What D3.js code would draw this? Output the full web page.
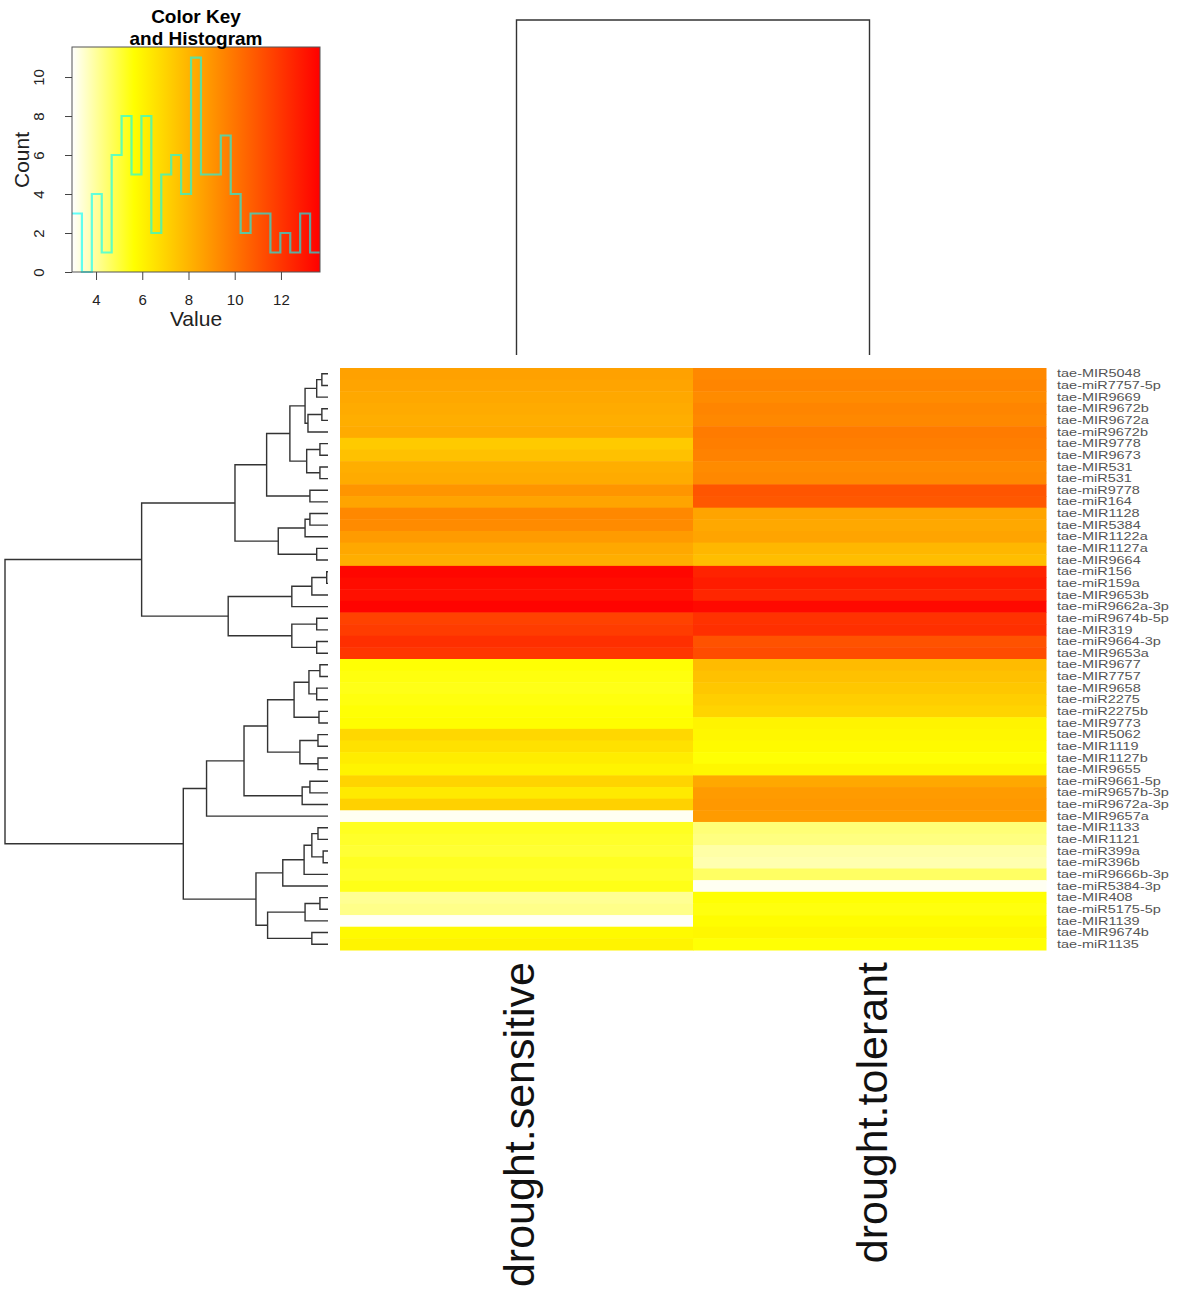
<!DOCTYPE html>
<html>
<head>
<meta charset="utf-8">
<script src="https://cdn.jsdelivr.net/npm/d3@7"></script>
<style>
  body { margin: 0; background: #fff; }
  text { font-family: "Liberation Sans", Arial, Helvetica, sans-serif; }
</style>
</head>
<body>
<div id="my_chart"></div>
<script>
// row / column names
const rowLabels = [
  "tae-MIR5048", "tae-miR7757-5p", "tae-MIR9669", "tae-MIR9672b", "tae-MIR9672a",
  "tae-miR9672b", "tae-MIR9778", "tae-MIR9673", "tae-MIR531", "tae-miR531",
  "tae-miR9778", "tae-miR164", "tae-MIR1128", "tae-MIR5384", "tae-MIR1122a",
  "tae-MIR1127a", "tae-MIR9664", "tae-miR156", "tae-miR159a", "tae-MIR9653b",
  "tae-miR9662a-3p", "tae-miR9674b-5p", "tae-MIR319", "tae-miR9664-3p", "tae-MIR9653a",
  "tae-MIR9677", "tae-MIR7757", "tae-MIR9658", "tae-miR2275", "tae-miR2275b",
  "tae-MIR9773", "tae-MIR5062", "tae-MIR1119", "tae-MIR1127b", "tae-MIR9655",
  "tae-miR9661-5p", "tae-miR9657b-3p", "tae-miR9672a-3p", "tae-MIR9657a", "tae-MIR1133",
  "tae-MIR1121", "tae-miR399a", "tae-miR396b", "tae-miR9666b-3p", "tae-miR5384-3p",
  "tae-MIR408", "tae-miR5175-5p", "tae-MIR1139", "tae-MIR9674b", "tae-miR1135"
];
const colLabels = ["drought.sensitive", "drought.tolerant"];

// expression values, one per row
const sensitive = [
  8.6, 8.5, 8.4, 8.3, 8.2, 8.3, 7.3, 7.6, 8.2, 8.3,
  9.0, 8.5, 9.4, 9.3, 8.8, 8.4, 8.2, 13.5, 13.3, 13.2,
  13.6, 11.6, 11.8, 12.2, 12.0, 5.6, 5.5, 5.4, 5.5, 5.6,
  5.7, 6.9, 6.6, 6.2, 6.0, 7.0, 6.3, 7.1, 3.1, 5.3,
  5.2, 5.1, 5.3, 5.2, 5.4, 4.1, 4.2, 3.05, 5.8, 6.0
];
const tolerant = [
  9.4, 9.5, 9.3, 9.5, 9.4, 9.8, 9.7, 9.6, 9.3, 9.4,
  11.0, 10.9, 8.5, 8.4, 8.5, 7.9, 7.7, 12.6, 12.8, 12.5,
  13.4, 12.1, 12.2, 11.1, 11.3, 7.8, 7.6, 7.4, 7.2, 7.0,
  6.0, 5.9, 5.8, 5.6, 5.9, 8.4, 8.8, 8.9, 8.8, 4.4,
  4.3, 3.9, 3.8, 4.6, 3.1, 5.6, 5.5, 5.7, 5.9, 5.6
];

// colour key / histogram
const keyRange = [2.96, 13.69];
const histCounts = [3, 0, 4, 1, 6, 8, 5, 8, 2, 5, 6, 4, 11, 5, 5, 7, 4, 2, 3, 3, 1, 2, 1, 3, 1];
const keyTicksX = [4, 6, 8, 10, 12];
const keyTicksY = [0, 2, 4, 6, 8, 10];

// row dendrogram: [height, left, right], leaves are row indices
const rowTree = [10,
  [5.77,
    [2.88,
      [1.90,
        [1.18,
          [0.71, [0.35, [0.19, 0, 1], 2], [0.62, [0.19, 3, 4], 5]],
          [0.66, [0.25, 6, 7], [0.25, 8, 9]]],
        [0.56, 10, 11]],
      [1.54, [0.71, [0.56, 12, 13], 14], [0.35, 15, 16]]],
    [3.09,
      [1.12, [0.50, [0.04, 17, 18], 19], 20],
      [1.12, [0.35, 21, 22], [0.35, 23, 24]]]],
  [4.48,
    [3.76,
      [2.60,
        [1.87,
          [1.05, [0.59, [0.25, 25, 26], [0.35, 27, 28]], [0.28, 29, 30]],
          [0.87, [0.31, 31, 32], [0.31, 33, 34]]],
        [0.80, [0.56, 35, 36], 37]],
      38],
    [2.23,
      [1.40, [0.74, [0.50, [0.31, 39, 40], [0.15, 41, 42]], 43], 44],
      [1.87, [0.71, [0.25, 45, 46], 47], [0.50, 48, 49]]]]
];
const colTree = [10, 0, 1];

const width = 1181, height = 1291;
const svg = d3.select("#my_chart")
  .append("svg")
  .attr("width", width)
  .attr("height", height);

// heatmap area
const hm = { left: 340, right: 1046, top: 368, bottom: 950 };
const y = d3.scaleBand().domain(d3.range(rowLabels.length)).range([hm.top, hm.bottom]);
const x = d3.scaleBand().domain(colLabels).range([hm.left, hm.right]);

const color = d3.scaleLinear()
  .domain([keyRange[0], keyRange[0] + (keyRange[1] - keyRange[0]) / 4, keyRange[1]])
  .range(["#ffffff", "#ffff00", "#ff0000"])
  .clamp(true);

const cells = [];
rowLabels.forEach((r, i) => {
  cells.push({ row: i, col: colLabels[0], v: sensitive[i] });
  cells.push({ row: i, col: colLabels[1], v: tolerant[i] });
});

svg.append("g")
  .selectAll("rect")
  .data(cells)
  .join("rect")
  .attr("x", d => x(d.col))
  .attr("y", d => y(d.row))
  .attr("width", x.bandwidth() + 0.5)
  .attr("height", y.bandwidth() + 0.5)
  .attr("fill", d => color(d.v));

// row labels (small font, stretched sideways like the original)
svg.append("g")
  .selectAll("text")
  .data(rowLabels)
  .join("text")
  .attr("transform", (d, i) => `translate(${hm.right + 11},${y(i) + y.bandwidth() / 2}) scale(1.45,1)`)
  .attr("dy", "0.36em")
  .attr("font-size", 10)
  .attr("fill", "#555")
  .text(d => d);

// column labels
svg.append("g")
  .selectAll("text")
  .data(colLabels)
  .join("text")
  .attr("transform", d => `translate(${x(d) + x.bandwidth() / 2 + 17},${hm.bottom + 12}) rotate(-90)`)
  .attr("text-anchor", "end")
  .attr("font-size", 43)
  .attr("fill", "#111")
  .text(d => d);

// row dendrogram
const rowRoot = d3.hierarchy(rowTree, d => Array.isArray(d) ? d.slice(1) : null);
rowRoot.eachAfter(n => {
  if (n.children) { n.h = n.data[0]; n.pos = d3.mean(n.children, c => c.pos); }
  else { n.h = 0; n.pos = y(n.data) + y.bandwidth() / 2; }
});
const hx = d3.scaleLinear().domain([0, rowTree[0]]).range([328, 5]);
svg.append("g")
  .selectAll("path")
  .data(rowRoot.descendants().filter(n => n.children))
  .join("path")
  .attr("d", n => {
    const [a, b] = n.children;
    return `M${hx(a.h)},${a.pos}H${hx(n.h)}V${b.pos}H${hx(b.h)}`;
  })
  .attr("fill", "none")
  .attr("stroke", "#333")
  .attr("stroke-width", 1.4);

// column dendrogram
const colRoot = d3.hierarchy(colTree, d => Array.isArray(d) ? d.slice(1) : null);
colRoot.eachAfter(n => {
  if (n.children) { n.h = n.data[0]; n.pos = d3.mean(n.children, c => c.pos); }
  else { n.h = 0; n.pos = x(colLabels[n.data]) + x.bandwidth() / 2; }
});
const hy = d3.scaleLinear().domain([0, colTree[0]]).range([355, 20]);
svg.append("g")
  .selectAll("path")
  .data(colRoot.descendants().filter(n => n.children))
  .join("path")
  .attr("d", n => {
    const [a, b] = n.children;
    return `M${a.pos},${hy(a.h)}V${hy(n.h)}H${b.pos}V${hy(b.h)}`;
  })
  .attr("fill", "none")
  .attr("stroke", "#333")
  .attr("stroke-width", 1.4);

// colour key with histogram
const key = { left: 72, right: 320, top: 47, bottom: 272 };
const kx = d3.scaleLinear().domain(keyRange).range([key.left, key.right]);
const ky = d3.scaleLinear().domain([0, 11.54]).range([key.bottom, key.top]);

const grad = svg.append("defs").append("linearGradient").attr("id", "keygrad");
color.domain().forEach(v => {
  grad.append("stop")
    .attr("offset", (v - keyRange[0]) / (keyRange[1] - keyRange[0]))
    .attr("stop-color", color(v));
});
svg.append("rect")
  .attr("x", key.left).attr("y", key.top)
  .attr("width", key.right - key.left).attr("height", key.bottom - key.top)
  .attr("fill", "url(#keygrad)");

const binW = (keyRange[1] - keyRange[0]) / histCounts.length;
const histPts = histCounts.map((c, i) => [keyRange[0] + i * binW, c]);
histPts.push([keyRange[1], histCounts[histCounts.length - 1]]);
svg.append("path")
  .datum(histPts)
  .attr("d", d3.line().x(d => kx(d[0])).y(d => ky(d[1])).curve(d3.curveStepAfter))
  .attr("fill", "none")
  .attr("stroke", "#00ffff")
  .attr("stroke-opacity", 0.62)
  .attr("stroke-width", 2.2);

svg.append("rect")
  .attr("x", key.left).attr("y", key.top)
  .attr("width", key.right - key.left).attr("height", key.bottom - key.top)
  .attr("fill", "none")
  .attr("stroke", "#555")
  .attr("stroke-width", 1);

// key axes
const axY = svg.append("g")
  .attr("transform", `translate(${key.left},0)`)
  .call(d3.axisLeft(ky).tickValues(keyTicksY).tickSize(7).tickSizeOuter(0));
axY.select(".domain").remove();
axY.selectAll("line").attr("stroke", "#444");
axY.selectAll("text")
  .attr("x", null).attr("dy", null)
  .attr("transform", "translate(-28,0) rotate(-90)")
  .attr("text-anchor", "middle")
  .attr("font-size", 15)
  .attr("font-family", "Liberation Sans, Arial, sans-serif")
  .attr("fill", "#222");

const axX = svg.append("g")
  .attr("transform", `translate(0,${key.bottom})`)
  .call(d3.axisBottom(kx).tickValues(keyTicksX).tickSize(8).tickSizeOuter(0).tickPadding(14));
axX.select(".domain").remove();
axX.selectAll("line").attr("stroke", "#444");
axX.selectAll("text")
  .attr("font-size", 15)
  .attr("font-family", "Liberation Sans, Arial, sans-serif")
  .attr("fill", "#222");

// key titles
svg.append("text")
  .attr("x", 196).attr("y", 23)
  .attr("text-anchor", "middle")
  .attr("font-size", 19).attr("font-weight", "bold")
  .text("Color Key");
svg.append("text")
  .attr("x", 196).attr("y", 45)
  .attr("text-anchor", "middle")
  .attr("font-size", 19).attr("font-weight", "bold")
  .text("and Histogram");
svg.append("text")
  .attr("x", 196).attr("y", 326)
  .attr("text-anchor", "middle")
  .attr("font-size", 21)
  .attr("fill", "#222")
  .text("Value");
svg.append("text")
  .attr("transform", "translate(29,160) rotate(-90)")
  .attr("text-anchor", "middle")
  .attr("font-size", 21)
  .attr("fill", "#222")
  .text("Count");
</script>
</body>
</html>
